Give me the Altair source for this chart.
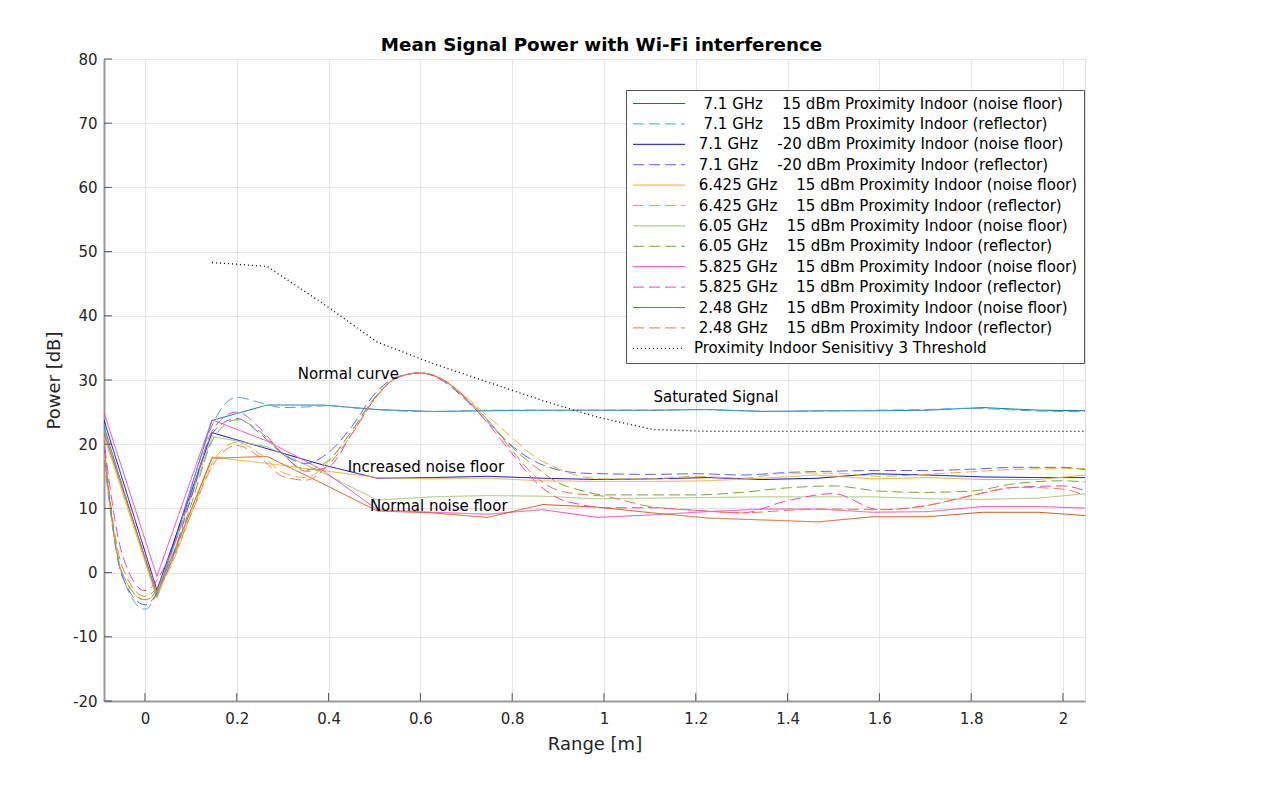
import altair as alt
import pandas as pd

FONT = "DejaVu Sans"
NB = "\u00a0"
ZW = "\u200b"

# ---------------- series (legend order) ----------------
series_names = [
    ZW + NB * 2 + "7.1 GHz" + NB * 4 + "15 dBm Proximity Indoor (noise floor)",
    ZW + NB * 2 + "7.1 GHz" + NB * 4 + "15 dBm Proximity Indoor (reflector)",
    ZW + NB + "7.1 GHz" + NB * 4 + "-20 dBm Proximity Indoor (noise floor)",
    ZW + NB + "7.1 GHz" + NB * 4 + "-20 dBm Proximity Indoor (reflector)",
    ZW + NB + "6.425 GHz" + NB * 4 + "15 dBm Proximity Indoor (noise floor)",
    ZW + NB + "6.425 GHz" + NB * 4 + "15 dBm Proximity Indoor (reflector)",
    ZW + NB + "6.05 GHz" + NB * 4 + "15 dBm Proximity Indoor (noise floor)",
    ZW + NB + "6.05 GHz" + NB * 4 + "15 dBm Proximity Indoor (reflector)",
    ZW + NB + "5.825 GHz" + NB * 4 + "15 dBm Proximity Indoor (noise floor)",
    ZW + NB + "5.825 GHz" + NB * 4 + "15 dBm Proximity Indoor (reflector)",
    ZW + NB + "2.48 GHz" + NB * 4 + "15 dBm Proximity Indoor (noise floor)",
    ZW + NB + "2.48 GHz" + NB * 4 + "15 dBm Proximity Indoor (reflector)",
    "Proximity Indoor Senisitivy 3 Threshold",
]
series_colors = [
    "#0072BD", "#4DA3DB",
    "#0000FF", "#6060FF",
    "#EDB120", "#EDB120",
    "#9CC46A", "#77AC30",
    "#FF3FB5", "#FF3FB5",
    "#D95319", "#F07A45",
    "#000000",
]
SOLID = [1, 0]
DASH = [11, 5]
DOT = [1, 3]
series_dash = [SOLID, DASH, SOLID, DASH, SOLID, DASH, SOLID, DASH, SOLID, DASH, SOLID, DASH, DOT]

# ---------------- noise-floor (solid) measurements ----------------
x_nf = [-0.094, 0.026, 0.146, 0.266, 0.386, 0.506, 0.626, 0.746, 0.866, 0.986,
        1.106, 1.226, 1.346, 1.466, 1.586, 1.706, 1.826, 1.946, 2.066]
nf_71_15 = [23.8, -3.8, 23.7, 26.1, 26.1, 25.4, 25.1, 25.2, 25.3, 25.3,
            25.3, 25.4, 25.1, 25.2, 25.2, 25.3, 25.7, 25.3, 25.2]
nf_71_m20 = [24.8, -2.7, 21.8, 19.3, 16.8, 14.7, 14.8, 15.0, 14.7, 14.5,
             14.6, 14.8, 14.5, 14.7, 15.4, 15.2, 14.9, 14.8, 14.8]
nf_6425 = [22.3, -4.0, 18.0, 17.0, 15.9, 14.8, 14.6, 14.7, 14.3, 14.2,
           14.2, 14.3, 14.7, 15.2, 14.6, 14.8, 14.5, 14.5, 15.3]
nf_605 = [23.2, -3.6, 21.2, 19.6, 15.6, 11.3, 11.8, 12.0, 11.9, 11.5,
          11.6, 11.7, 11.8, 11.8, 11.8, 11.5, 11.4, 11.6, 12.4]
nf_5825 = [26.0, -0.6, 23.8, 20.5, 16.0, 9.8, 9.4, 9.1, 9.8, 8.6,
           9.0, 9.5, 9.9, 9.9, 9.4, 9.5, 10.3, 10.3, 10.0]
nf_248 = [22.8, -3.2, 17.8, 18.1, 13.9, 9.6, 9.3, 8.6, 10.6, 10.2,
          9.3, 8.5, 8.2, 7.9, 8.7, 8.7, 9.4, 9.4, 8.8]

# ---------------- reflector (dashed) measurements ----------------
x_rf = [-0.1, -0.05, 0.0, 0.05, 0.1, 0.15, 0.2, 0.25, 0.3, 0.35, 0.4, 0.45,
        0.5, 0.55, 0.6, 0.65, 0.7, 0.75, 0.8, 0.85, 0.9, 0.95, 1.0,
        1.1, 1.2, 1.3, 1.4, 1.5, 1.6, 1.7, 1.8, 1.9, 2.0, 2.05]
rf_71_15 = [28.0, -0.3, -5.7, 1.5, 13.0, 23.5, 27.3, 26.5, 25.7, 25.8, 26.0, 25.7,
            25.4, 25.2, 25.1, 25.1, 25.2, 25.3, 25.3, 25.3, 25.2, 25.3, 25.3,
            25.3, 25.4, 25.2, 25.1, 25.2, 25.3, 25.4, 25.6, 25.3, 25.1, 25.1]
rf_71_m20 = [27.0, -0.5, -5.0, 0.5, 11.5, 22.0, 24.0, 21.7, 18.5, 17.0, 18.7, 22.7,
             27.8, 30.5, 31.1, 29.8, 26.8, 23.2, 19.7, 17.3, 16.0, 15.5, 15.4,
             15.3, 15.4, 15.2, 15.6, 15.8, 15.9, 15.9, 16.1, 16.4, 16.4, 16.0]
rf_6425 = [26.0, 0.0, -4.3, 0.0, 9.0, 17.5, 20.3, 18.5, 15.6, 14.8, 17.3, 22.0,
           27.2, 30.4, 31.1, 30.1, 27.3, 24.2, 21.0, 18.0, 16.2, 15.0, 14.6,
           14.6, 15.0, 14.7, 15.5, 15.5, 15.0, 15.3, 15.7, 16.1, 16.2, 16.2]
rf_605 = [25.0, 0.0, -4.2, 0.5, 10.5, 21.0, 23.8, 22.0, 18.5, 16.0, 17.5, 22.0,
          27.2, 30.4, 31.1, 30.0, 27.0, 23.5, 19.5, 16.5, 14.0, 12.8, 12.1,
          12.1, 12.1, 12.5, 13.2, 13.5, 12.7, 12.5, 12.7, 13.9, 14.3, 14.1]
rf_5825 = [27.0, 3.0, -2.8, 2.0, 12.0, 22.5, 25.0, 22.5, 18.5, 15.8, 16.5, 21.5,
           27.0, 30.4, 31.1, 30.0, 27.0, 23.0, 18.5, 14.2, 11.6, 10.6, 10.1,
           10.1, 9.7, 9.3, 11.2, 12.3, 9.8, 10.4, 12.0, 13.3, 13.5, 12.7]
rf_248 = [26.0, 1.0, -3.7, 0.5, 9.0, 17.0, 19.8, 18.0, 15.0, 14.4, 16.8, 21.5,
          27.0, 30.4, 31.1, 30.0, 27.2, 23.5, 19.0, 15.0, 12.8, 12.2, 11.9,
          10.3, 9.7, 9.3, 9.7, 9.9, 9.8, 10.4, 12.0, 13.3, 13.0, 11.9]

# ---------------- threshold (dotted) ----------------
x_th = [0.146, 0.266, 0.386, 0.506, 0.626, 0.746, 0.866, 0.986, 1.106,
        1.226, 1.346, 1.466, 1.586, 1.706, 1.826, 1.946, 2.066]
th = [48.3, 47.7, 42.0, 35.9, 32.6, 29.7, 26.8, 24.2, 22.3,
      22.0, 22.0, 22.0, 22.0, 22.0, 22.0, 22.0, 22.0]

# ---------------- annotations ----------------
ann_text = ["Normal curve", "Saturated Signal", "Increased noise floor", "Normal noise floor"]
ann_x = [0.443, 1.244, 0.612, 0.640]
ann_y = [31.0, 27.3, 16.5, 10.4]

# ---------------- axes ----------------
x_ticks = [0, 0.2, 0.4, 0.6, 0.8, 1, 1.2, 1.4, 1.6, 1.8, 2]
y_ticks = [-20, -10, 0, 10, 20, 30, 40, 50, 60, 70, 80]

W, H = 981, 642


def long(xs, cols):
    rows = []
    for name, ys in cols:
        for xv, yv in zip(xs, ys):
            rows.append({"x": xv, "y": yv, "series": name})
    return pd.DataFrame(rows)


nf_df = long(x_nf, [(series_names[0], nf_71_15), (series_names[2], nf_71_m20),
                    (series_names[4], nf_6425), (series_names[6], nf_605),
                    (series_names[8], nf_5825), (series_names[10], nf_248)])
rf_df = long(x_rf, [(series_names[1], rf_71_15), (series_names[3], rf_71_m20),
                    (series_names[5], rf_6425), (series_names[7], rf_605),
                    (series_names[9], rf_5825), (series_names[11], rf_248)])
th_df = long(x_th, [(series_names[12], th)])
ann_df = pd.DataFrame({"x": ann_x, "y": ann_y, "t": ann_text})

x_scale = alt.Scale(domain=[-0.0893, 2.048], nice=False, zero=False)
y_scale = alt.Scale(domain=[-20, 80], nice=False, zero=False)

X = alt.X("x:Q", scale=x_scale, axis=alt.Axis(
    values=x_ticks, labelExpr="'' + datum.value", title="Range [m]", grid=True, gridColor="#e4e4e4",
    tickSize=0, labelPadding=10, labelFontSize=15, labelFont=FONT, labelColor="#262626",
    titleFont=FONT, titleFontSize=18, titleFontWeight="normal", titleColor="#262626",
    titlePadding=9, domainColor="#9a9a9a", domainWidth=2))
Y = alt.Y("y:Q", scale=y_scale, axis=alt.Axis(
    values=y_ticks, labelExpr="'' + datum.value", title="Power [dB]", grid=True, gridColor="#e4e4e4",
    tickSize=0, labelPadding=7, labelFontSize=15, labelFont=FONT, labelColor="#262626",
    titleFont=FONT, titleFontSize=18, titleFontWeight="normal", titleColor="#262626",
    titlePadding=9, domainColor="#9a9a9a", domainWidth=2))

leg = alt.Legend(orient="none", legendX=522, legendY=31, title=None,
                 symbolType="M-1,0H7", symbolSize=169, symbolStrokeWidth=1,
                 labelFont=FONT, labelFontSize=15, labelColor="#000000",
                 labelLimit=600, labelOffset=47, rowPadding=4.4, padding=6,
                 strokeColor="#555555", fillColor="white")
C = alt.Color("series:N", scale=alt.Scale(domain=series_names, range=series_colors), legend=leg)
D = alt.StrokeDash("series:N", scale=alt.Scale(domain=series_names, range=series_dash), legend=leg)

solid = alt.Chart(nf_df).mark_line(strokeWidth=1, clip=True).encode(x=X, y=Y, color=C, strokeDash=D)
dashed = alt.Chart(rf_df).mark_line(strokeWidth=1, clip=True, interpolate="monotone").encode(
    x=X, y=Y, color=C, strokeDash=D)
thresh = alt.Chart(th_df).mark_line(strokeWidth=1.3, clip=True).encode(x=X, y=Y, color=C, strokeDash=D)

labels = alt.Chart(ann_df).mark_text(font=FONT, fontSize=15, color="black", align="center",
                                     baseline="middle").encode(x=X, y=Y, text="t:N")

xt = alt.Chart(pd.DataFrame({"x": x_ticks})).mark_rule(color="#555555", strokeWidth=1).encode(
    x=X, y=alt.value(H), y2=alt.value(H - 8))
yt = alt.Chart(pd.DataFrame({"y": y_ticks})).mark_rule(color="#555555", strokeWidth=1).encode(
    y=Y, x=alt.value(0), x2=alt.value(8))

chart = alt.layer(solid, dashed, thresh, labels, xt, yt).properties(
    width=W, height=H,
    title=alt.TitleParams("Mean Signal Power with Wi-Fi interference", font=FONT, fontSize=18.3,
                          fontWeight="bold", color="#000000", anchor="middle", offset=0, dx=7, dy=3),
    autosize=alt.AutoSizeParams(type="none"),
    padding={"left": 96, "top": 51, "right": 160, "bottom": 70},
).configure_view(stroke=None).configure(background="white")

chart.save("out.html", embed_options={"renderer": "svg", "actions": False})
